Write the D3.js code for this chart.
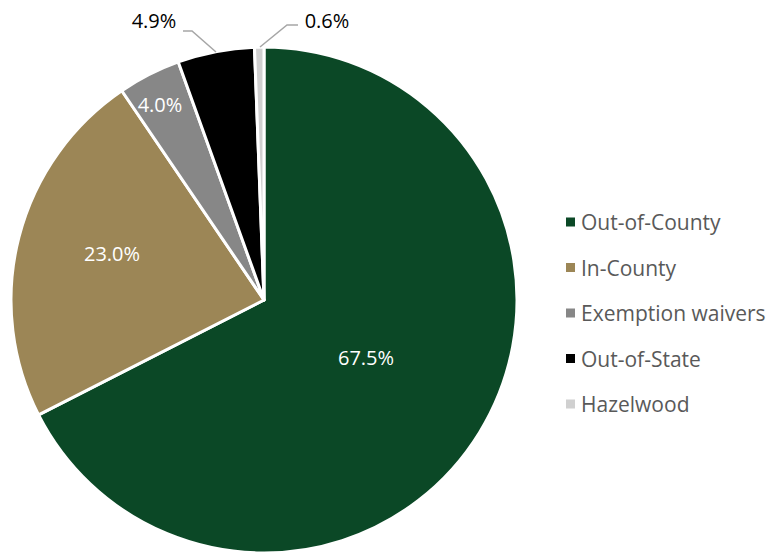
<!DOCTYPE html>
<html><head><meta charset="utf-8">
<script src="https://cdn.jsdelivr.net/npm/d3@7"></script>
<style>body{margin:0;background:#fff}</style>
</head><body>
<svg id="c" width="768" height="554"></svg>
<script>
const categories = ["Out-of-County","In-County","Exemption waivers","Out-of-State","Hazelwood"];
const values = [67.5, 23.0, 4.0, 4.9, 0.6];
const colors = ["#0b4826","#9c8656","#878787","#000000","#d0d0d0"];
const labelColors = ["#fff","#fff","#fff","#000","#000"];

const svg = d3.select("#c");
const cx = 264, cy = 300, r = 253;
const font = "'Open Sans', sans-serif";
const pie = d3.pie().sort(null).value(d => d)(values);
const arc = d3.arc().innerRadius(0).outerRadius(r);
const g = svg.append("g").attr("transform", `translate(${cx},${cy})`);
g.selectAll("path").data(pie).join("path")
  .attr("d", arc).attr("fill", (d,i)=>colors[i])
  .attr("stroke", "#fff").attr("stroke-width", 3).attr("stroke-linejoin","round");

// inside labels
const inside = [[102, 57], [-152, -47], [-104, -196]];
inside.forEach((p,i)=>{
  g.append("text").attr("x", p[0]).attr("y", p[1]).attr("text-anchor","middle")
   .attr("dominant-baseline","central").attr("fill", labelColors[i])
   .attr("font-family", font).attr("font-size", 20).text(values[i].toFixed(1)+"%");
});
// outside labels with leaders
const leaders = [
  {i:3, pts:[[183,31],[192,31],[216,52]], tx:154, ty:20},
  {i:4, pts:[[298,25],[287,25],[260,47]], tx:327, ty:20}
];
leaders.forEach(L=>{
  svg.append("polyline").attr("points", L.pts.map(p=>p.join(",")).join(" "))
    .attr("fill","none").attr("stroke","#a6a6a6").attr("stroke-width",1.5);
  svg.append("text").attr("x", L.tx).attr("y", L.ty).attr("text-anchor","middle")
    .attr("dominant-baseline","central").attr("fill","#000")
    .attr("font-family", font).attr("font-size", 20).text(values[L.i].toFixed(1)+"%");
});

// legend
const lg = svg.append("g");
categories.forEach((c,i)=>{
  const y = 222 + i*45.5;
  lg.append("rect").attr("x",566).attr("y",y-4.5).attr("width",9).attr("height",9).attr("fill",colors[i]);
  lg.append("text").attr("x",581).attr("y",y).attr("dominant-baseline","central")
    .attr("fill","#595959").attr("font-family",font).attr("font-size",21).text(c);
});
</script>
</body></html>
